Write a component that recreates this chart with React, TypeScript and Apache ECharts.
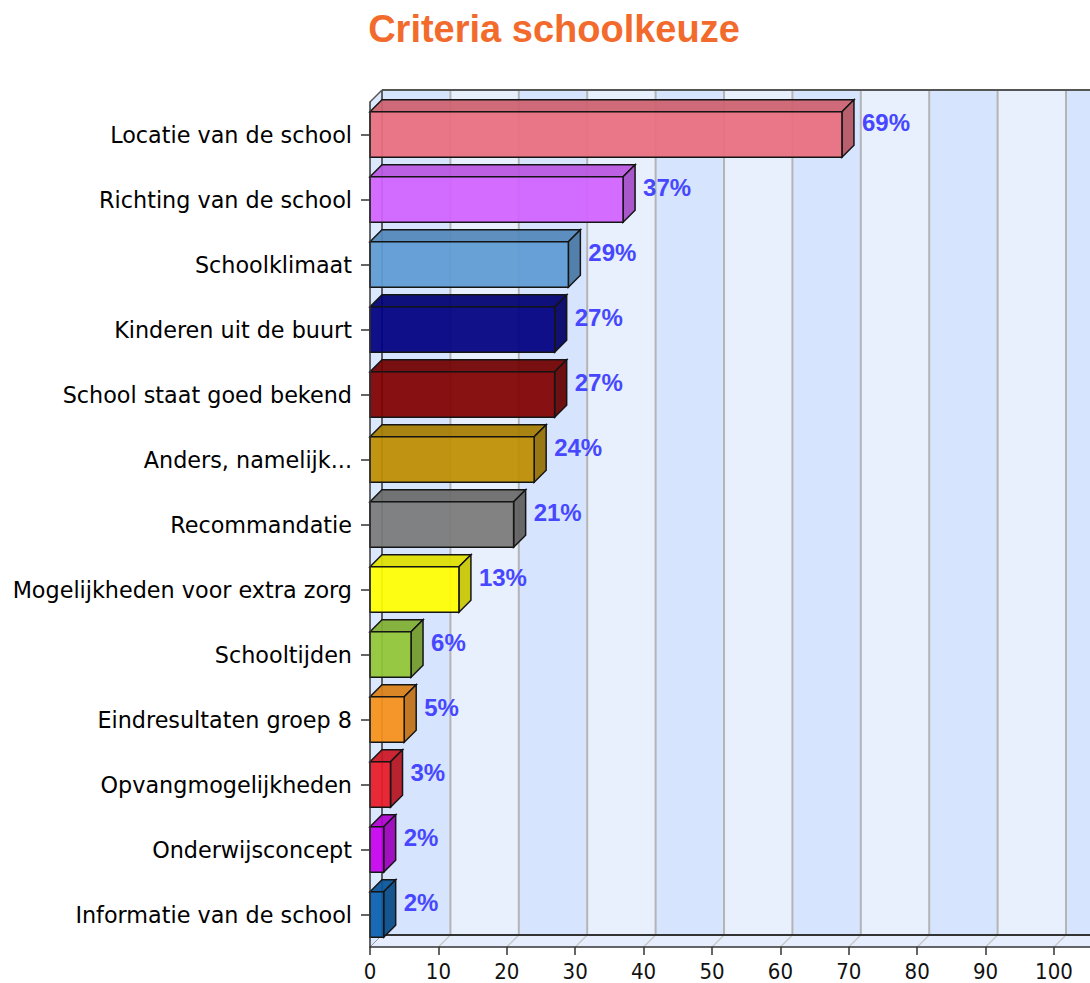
import React, { useEffect, useRef } from "react";
import * as echarts from "echarts";

const categories = [
  "Locatie van de school",
  "Richting van de school",
  "Schoolklimaat",
  "Kinderen uit de buurt",
  "School staat goed bekend",
  "Anders, namelijk...",
  "Recommandatie",
  "Mogelijkheden voor extra zorg",
  "Schooltijden",
  "Eindresultaten groep 8",
  "Opvangmogelijkheden",
  "Onderwijsconcept",
  "Informatie van de school",
];
const values = [69, 37, 29, 27, 27, 24, 21, 13, 6, 5, 3, 2, 2];
const barColors = [
  "#e96e7e",
  "#d262ff",
  "#5e9bd3",
  "#000080",
  "#800000",
  "#be8e00",
  "#7a7a7a",
  "#ffff00",
  "#92c636",
  "#f8901a",
  "#e81a28",
  "#c800ee",
  "#0a60ae",
];
const stripeStarts = [0, 10, 20, 30, 40, 50, 60, 70, 80, 90, 100];
const tickValues = [0, 10, 20, 30, 40, 50, 60, 70, 80, 90, 100];
const X_MIN = 0;
const X_MAX = 110;
const X_STEP = 10;
const DEPTH = 12;

function shade(hex: string, k: number, alpha: number) {
  const arr = echarts.color.parse(hex) as number[];
  const r = Math.round(arr[0] * k);
  const g = Math.round(arr[1] * k);
  const b = Math.round(arr[2] * k);
  return `rgba(${r},${g},${b},${alpha})`;
}

export default function App() {
  const ref = useRef<HTMLDivElement>(null);
  useEffect(() => {
    if (!ref.current) return;
    const chart = echarts.init(ref.current, null, { renderer: "svg" });
    const option: any = {
      animation: false,
      backgroundColor: "#ffffff",
      title: {
        text: "Criteria schoolkeuze",
        left: 549,
        top: 5,
        textAlign: "center",
        textStyle: {
          color: "#f26b2d",
          fontSize: 38,
          fontWeight: "bold",
          fontFamily: '"Liberation Sans", Arial, sans-serif',
        },
      },
      grid: { left: 370, top: 102, width: 752.4, height: 845, outerBoundsMode: "none", containLabel: false },
      xAxis: {
        type: "value",
        min: X_MIN,
        max: X_MAX,
        interval: X_STEP,
        z: 10,
        axisLine: { show: true, lineStyle: { color: "#333333", width: 1.5 } },
        axisTick: { show: true, length: 8, lineStyle: { color: "#333333", width: 1.5 } },
        axisLabel: {
          margin: 13,
          color: "#111111",
          fontSize: 22,
          lineHeight: 22,
          fontFamily: '"DejaVu Sans Condensed", "Liberation Sans Narrow", sans-serif',
          formatter: (v: number) => (tickValues.indexOf(v) >= 0 ? String(v) : ""),
        },
        splitLine: { show: false },
      },
      yAxis: {
        type: "category",
        data: categories,
        inverse: true,
        z: 10,
        axisLine: { show: true, lineStyle: { color: "#333333", width: 1.5 } },
        axisTick: { show: true, alignWithLabel: true, length: 9, lineStyle: { color: "#333333", width: 1.5 } },
        axisLabel: {
          margin: 18,
          color: "#000000",
          fontSize: 22.3,
          fontFamily: '"DejaVu Sans", sans-serif',
        },
        splitLine: { show: false },
      },
      series: [
        {
          type: "custom",
          name: "walls",
          z: 1,
          silent: true,
          data: stripeStarts.map((v) => [v, 0]),
          encode: { x: 0, y: 1 },
          renderItem: (params: any, api: any) => {
            const start = api.value(0);
            const end = start + X_STEP;
            const cs = params.coordSys;
            const top = cs.y;
            const bottom = cs.y + cs.height;
            const xa = api.coord([start, 0])[0];
            const xb = api.coord([end, 0])[0];
            const dark = params.dataIndex % 2 === 0;
            const children: any[] = [
              {
                type: "rect",
                shape: { x: xa + DEPTH, y: top - DEPTH, width: xb - xa, height: cs.height },
                style: { fill: dark ? "#d6e4fd" : "#e8f0fe" },
              },
              {
                type: "polygon",
                shape: {
                  points: [
                    [xa, bottom],
                    [xa + DEPTH, bottom - DEPTH],
                    [xb + DEPTH, bottom - DEPTH],
                    [xb, bottom],
                  ],
                },
                style: { fill: "#e6eefd" },
              },
            ];
            if (start > 0) {
              children.push({
                type: "line",
                shape: { x1: xa + DEPTH, y1: top - DEPTH, x2: xa + DEPTH, y2: bottom - DEPTH },
                style: { stroke: "#b4b4b4", lineWidth: 2 },
              });
              children.push({
                type: "line",
                shape: { x1: xa + DEPTH, y1: bottom - DEPTH, x2: xa, y2: bottom },
                style: { stroke: "#c8c8c8", lineWidth: 1.5 },
              });
            }
            return { type: "group", children };
          },
        },
        {
          type: "custom",
          name: "frame",
          z: 2,
          silent: true,
          data: [[0, 0]],
          encode: { x: 0, y: 1 },
          renderItem: (params: any, api: any) => {
            const cs = params.coordSys;
            const top = cs.y;
            const bottom = cs.y + cs.height;
            const x0 = api.coord([X_MIN, 0])[0];
            const xr = cs.x + cs.width + DEPTH + 40;
            return {
              type: "group",
              children: [
                {
                  type: "polygon",
                  shape: {
                    points: [
                      [x0, top],
                      [x0 + DEPTH, top - DEPTH],
                      [x0 + DEPTH, bottom - DEPTH],
                      [x0, bottom],
                    ],
                  },
                  style: { fill: "#dce8fd" },
                },
                {
                  type: "line",
                  shape: { x1: x0 + DEPTH, y1: top - DEPTH, x2: x0 + DEPTH, y2: bottom - DEPTH },
                  style: { stroke: "#333333", lineWidth: 1.5 },
                },
                {
                  type: "line",
                  shape: { x1: x0 + DEPTH, y1: top - DEPTH, x2: xr, y2: top - DEPTH },
                  style: { stroke: "#555555", lineWidth: 2 },
                },
                {
                  type: "line",
                  shape: { x1: x0, y1: top, x2: x0 + DEPTH, y2: top - DEPTH },
                  style: { stroke: "#555555", lineWidth: 1.5 },
                },
                {
                  type: "line",
                  shape: { x1: x0 + DEPTH, y1: bottom - DEPTH, x2: xr, y2: bottom - DEPTH },
                  style: { stroke: "#333333", lineWidth: 2 },
                },
                {
                  type: "line",
                  shape: { x1: x0, y1: bottom, x2: x0 + DEPTH, y2: bottom - DEPTH },
                  style: { stroke: "#999999", lineWidth: 1 },
                },
              ],
            };
          },
        },
        {
          type: "custom",
          name: "bars",
          z: 3,
          data: values.map((v, i) => [v, i]),
          encode: { x: 0, y: 1 },
          renderItem: (params: any, api: any) => {
            const val = api.value(0);
            const idx = api.value(1);
            const p0 = api.coord([X_MIN, idx]);
            const p1 = api.coord([val, idx]);
            const band = api.size([0, 1])[1];
            const h = band * 0.7;
            const top = p0[1] - h / 2;
            const bottom = p0[1] + h / 2;
            const x0 = p0[0];
            const x1 = p1[0];
            const base = barColors[params.dataIndex];
            const alpha = 0.93;
            const front = shade(base, 1, alpha);
            const topC = shade(base, 0.88, alpha);
            const sideC = shade(base, 0.78, alpha);
            const stroke = { stroke: "#151515", lineWidth: 1.5 };
            return {
              type: "group",
              children: [
                {
                  type: "polygon",
                  shape: {
                    points: [
                      [x0, top],
                      [x0 + DEPTH, top - DEPTH],
                      [x1 + DEPTH, top - DEPTH],
                      [x1, top],
                    ],
                  },
                  style: { fill: topC, ...stroke },
                },
                {
                  type: "polygon",
                  shape: {
                    points: [
                      [x1, top],
                      [x1 + DEPTH, top - DEPTH],
                      [x1 + DEPTH, bottom - DEPTH],
                      [x1, bottom],
                    ],
                  },
                  style: { fill: sideC, ...stroke },
                },
                {
                  type: "rect",
                  shape: { x: x0, y: top, width: x1 - x0, height: h },
                  style: { fill: front, ...stroke },
                },
                {
                  type: "text",
                  x: x1 + DEPTH + 8,
                  y: p0[1] - 12.5,
                  style: {
                    text: val + "%",
                    fill: "#4747ff",
                    fontSize: 24,
                    fontWeight: "bold",
                    fontFamily: '"Liberation Sans", Arial, sans-serif',
                    align: "left",
                    verticalAlign: "middle",
                  },
                },
              ],
            };
          },
        },
      ],
    };
    chart.setOption(option);
    return () => chart.dispose();
  }, []);
  return (
    <div
      ref={ref}
      style={{ position: "absolute", left: 0, top: 0, width: 1090, height: 983 }}
    />
  );
}
